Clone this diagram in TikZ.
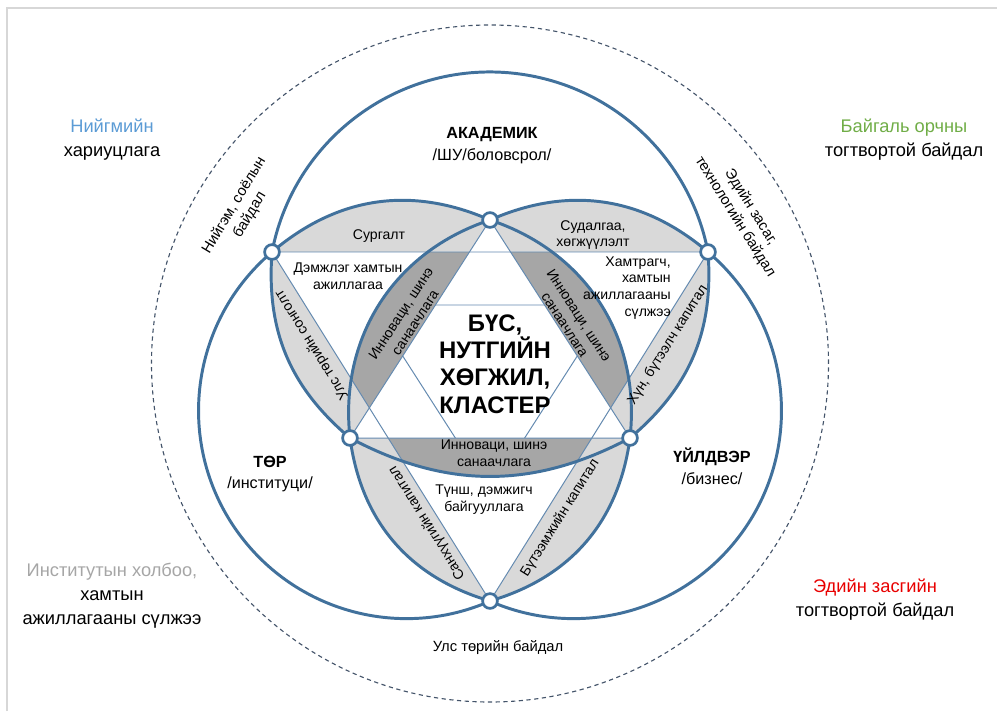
\documentclass[tikz,border=0pt]{standalone}
\usepackage{fontspec}
\setmainfont{Liberation Sans}

\definecolor{helixblue}{RGB}{65,113,156}
\definecolor{chordblue}{RGB}{100,138,176}
\definecolor{lensgray}{RGB}{217,217,217}
\definecolor{coregray}{RGB}{166,166,166}
\definecolor{socblue}{RGB}{91,155,213}
\definecolor{envgreen}{RGB}{112,173,71}
\definecolor{instgray}{RGB}{166,166,166}
\definecolor{econred}{RGB}{232,0,0}
\definecolor{ringslate}{RGB}{68,84,106}
\definecolor{framegray}{RGB}{215,215,215}

\begin{document}
\begin{tikzpicture}[x=0.025cm, y=0.025cm,
    every node/.style={align=center, inner sep=0pt, font=\fontsize{10}{12}\selectfont},
    helixarc/.style={draw=helixblue, line width=2.1pt},
    chordline/.style={draw=chordblue, line width=0.7pt},
    hub/.style={circle, draw=helixblue, line width=1.9pt, fill=white, minimum size=0.37cm, inner sep=0pt},
    cornertext/.style={font=\fontsize{13}{17}\selectfont},
    sectortext/.style={font=\fontsize{11.5}{15.5}\selectfont},
    lenstext/.style={font=\fontsize{10}{12}\selectfont},
    rimtext/.style={font=\fontsize{10.5}{13}\selectfont}]
        \useasboundingbox (0,0) rectangle (997,-711);
        % Frame
        \draw[framegray, line width=1pt] (7,-711) -- (7,-8) -- (997,-8);
        % Star points
        \coordinate (T) at (490,-220);
        \coordinate (L) at (272,-252);
        \coordinate (R) at (708,-252);
        \coordinate (LL) at (350,-438);
        \coordinate (LR) at (630,-438);
        \coordinate (B) at (490,-601);
        \coordinate (O) at (490,-363.5);
        \coordinate (hexA) at (370,-305);
        \coordinate (hexB) at (610,-305);
        \coordinate (hexC) at (490,-492);
        % Outer ring
        \draw[ringslate, line width=0.8pt, dash pattern=on 3pt off 2.5pt] (O) circle[radius=338.5];
        % Light lenses
        \fill[lensgray] (L) to[bend left=32] (T) to[bend left=32] (R) to[bend left=27] (LR)
            to[bend left=33] (B) to[bend left=33] (LL) to[bend left=27] (L) -- cycle;
        % Hexagram
        \fill[white] (L) -- (R) -- (B) -- cycle;
        \fill[white] (T) -- (LL) -- (LR) -- cycle;
        % Dark lenses
        \begin{scope}
            \clip (L) -- (R) -- (B) -- cycle;
            \fill[coregray] (T) to[bend right=39] (LL) to[bend right=28] (LR) to[bend right=39] (T) -- cycle;
            \fill[white] (T) -- (LL) -- (LR) -- cycle;
        \end{scope}
        % Inner hexagon
        \begin{scope}
            \clip (T) -- (LL) -- (LR) -- cycle;
            \draw[chordline] (hexA) -- (hexB) -- (hexC) -- cycle;
        \end{scope}
        % Triangles
        \draw[chordline] (L) -- (R) -- (B) -- cycle;
        \draw[chordline] (T) -- (LL) -- (LR) -- cycle;
        % Arcs
        \draw[helixarc] (L) to[bend left=32] (T) to[bend left=32] (R) to[bend left=27] (LR)
            to[bend left=33] (B) to[bend left=33] (LL) to[bend left=27] (L);
        \draw[helixarc] (T) to[bend right=39] (LL) to[bend right=28] (LR) to[bend right=39] (T);
        % Big circles
        \draw[helixarc] (L) arc[start angle=169.1, end angle=10.9, radius=222];
        \draw[helixarc] (L) arc[start angle=130.3, end angle=293.6, radius=208];
        \draw[helixarc] (R) arc[start angle=49.7, end angle=-113.6, radius=208];
        % Hubs
        \foreach \p in {T,L,R,LL,LR,B}
            \node[hub] (hub\p) at (\p) {};
        % Sectors
        \node[sectortext] (academ) at (492,-146) {\textbf{АКАДЕМИК}\\/ШУ/боловсрол/};
        \node[sectortext] (state) at (270,-474) {\textbf{ТӨР}\\/институци/};
        \node[sectortext] (industry) at (712,-466) {\textbf{ҮЙЛДВЭР}\\/бизнес/};
        % Core
        \node[font=\fontsize{17}{19.5}\selectfont\bfseries] (core) at (495,-364) {БҮС,\\НУТГИЙН\\ХӨГЖИЛ,\\КЛАСТЕР};
        % Corners
        \node[cornertext] (social) at (112,-140) {\textcolor{socblue}{Нийгмийн}\\хариуцлага};
        \node[cornertext] (nature) at (904,-140) {\textcolor{envgreen}{Байгаль орчны}\\тогтвортой байдал};
        \node[cornertext] (network) at (112,-596) {\textcolor{instgray}{Институтын холбоо,}\\хамтын\\ажиллагааны сүлжээ};
        \node[cornertext] (economy) at (875,-600) {\textcolor{econred}{Эдийн засгийн}\\тогтвортой байдал};
        % Rim
        \node[rimtext, rotate=59] (culture) at (242,-210) {Нийгэм, соёлын\\байдал};
        \node[rimtext, rotate=-58] (techno) at (743,-212) {Эдийн засаг,\\технологийн байдал};
        \node[rimtext] (politics) at (498,-648) {Улс төрийн байдал};
        % Lenses
        \node[lenstext] (training) at (379,-236) {Сургалт};
        \node[lenstext] (research) at (593,-235) {Судалгаа,\\хөгжүүлэлт};
        \node[lenstext] (support) at (348,-276) {Дэмжлэг хамтын\\ажиллагаа};
        \node[lenstext, align=right, anchor=east] (partner) at (671,-288) {Хамтрагч,\\хамтын\\ажиллагааны\\сүлжээ};
        \node[lenstext] (allies) at (484,-500) {Түнш, дэмжигч\\байгууллага};
        \node[lenstext, rotate=122] (choice) at (312,-345) {Улс төрийн сонголт};
        \node[lenstext, rotate=58] (human) at (668,-345) {Хүн, бүтээлч капитал};
        \node[lenstext, rotate=122] (finance) at (427,-523) {Санхүүгийн капитал};
        \node[lenstext, rotate=58] (product) at (560,-518) {Бүтээмжийн капитал};
        \node[lenstext, rotate=57] (innovL) at (408,-318) {Инноваци, шинэ\\санаачлага};
        \node[lenstext, rotate=-57] (innovR) at (572,-320) {Инноваци, шинэ\\санаачлага};
        \node[lenstext] (innovB) at (494,-453) {Инноваци, шинэ\\санаачлага};
    \end{tikzpicture}
\end{document}
